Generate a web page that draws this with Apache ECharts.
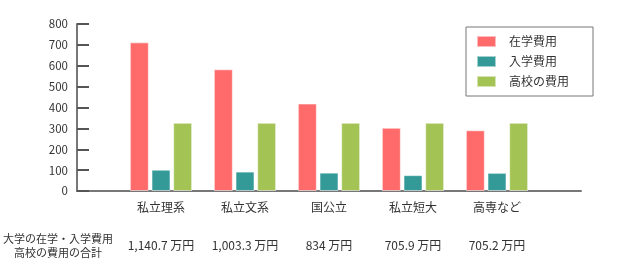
<!DOCTYPE html>
<html>
<head>
<meta charset="utf-8">
<script src="https://cdn.jsdelivr.net/npm/echarts@6/dist/echarts.min.js"></script>
<style>
html,body{margin:0;padding:0;background:#fff;}
#main{width:628px;height:277px;}
</style>
</head>
<body>
<div id="main"></div>
<script>
var categories = ['私立理系', '私立文系', '国公立', '私立短大', '高専など'];
var enrollmentCost = [712, 583, 419, 303, 291];   // 在学費用
var admissionCost = [102, 93, 88, 76, 87];        // 入学費用
var highSchoolCost = [327, 327, 327, 327, 327];   // 高校の費用
var totals = ['1,140.7', '1,003.3', '834', '705.9', '705.2'];
var yTicks = { min: 0, max: 800, interval: 100 };
var seriesNames = ['在学費用', '入学費用', '高校の費用'];
var totalLabel = ['大学の在学・入学費用', '高校の費用の合計'];

var FONT = '"Noto Sans CJK JP", sans-serif';
var slots = [''].concat(categories, ['']);
function pad(arr) { return [null].concat(arr, [null]); }
var totalSlots = [''].concat(totals.map(function (t) { return t + ' 万円'; }), ['']);

var chart = echarts.init(document.getElementById('main'), null, { renderer: 'canvas' });
var colors = ['#ff6a6a', '#339a98', '#a3c455'];
var barStyle = function (c) {
  return { color: c, borderColor: 'rgba(255,255,255,0.55)', borderWidth: 1 };
};
chart.setOption({
  animation: false,
  backgroundColor: '#fff',
  textStyle: { fontFamily: FONT },
  grid: { left: 77, right: 47, top: 24, bottom: 86, containLabel: false },
  legend: {
    orient: 'vertical',
    left: 466,
    top: 27,
    width: 114,
    padding: [8, 24, 8, 10],
    itemWidth: 19,
    itemHeight: 11,
    itemGap: 7,
    borderColor: '#777',
    borderWidth: 1,
    backgroundColor: '#fff',
    icon: 'rect',
    textStyle: { fontSize: 12, color: '#333', fontFamily: FONT, padding: [0, 0, 0, 8] },
    data: seriesNames
  },
  xAxis: [{
    type: 'category',
    data: slots,
    boundaryGap: false,
    axisLine: { show: true, lineStyle: { color: '#777', width: 2 } },
    axisTick: { show: false },
    axisLabel: { interval: 0, fontSize: 12, color: '#333', margin: 10, fontFamily: FONT }
  }, {
    type: 'category',
    data: totalSlots,
    boundaryGap: false,
    position: 'bottom',
    axisLine: { show: false },
    axisTick: { show: false },
    axisLabel: { interval: 0, fontSize: 12, color: '#333', margin: 48, fontFamily: FONT }
  }],
  yAxis: {
    type: 'value',
    min: yTicks.min,
    max: yTicks.max,
    interval: yTicks.interval,
    splitLine: { show: false },
    axisLine: { show: true, lineStyle: { color: '#777', width: 2 } },
    axisTick: { show: true, inside: true, length: 12, lineStyle: { color: '#555', width: 2 } },
    axisLabel: { fontSize: 11.5, color: '#333', margin: 9, fontFamily: FONT }
  },
  series: [
    { name: seriesNames[0], type: 'bar', data: pad(enrollmentCost), barWidth: 19, barGap: '14%', itemStyle: barStyle(colors[0]) },
    { name: seriesNames[1], type: 'bar', data: pad(admissionCost), barWidth: 19, barGap: '14%', itemStyle: barStyle(colors[1]) },
    { name: seriesNames[2], type: 'bar', data: pad(highSchoolCost), barWidth: 19, barGap: '14%', itemStyle: barStyle(colors[2]) }
  ],
  graphic: [{
    type: 'text',
    x: 58,
    y: 232,
    style: {
      text: totalLabel.join('\n'),
      font: '11px ' + FONT,
      fill: '#333',
      align: 'center',
      verticalAlign: 'top',
      lineHeight: 14
    }
  }]
});
</script>
</body>
</html>
